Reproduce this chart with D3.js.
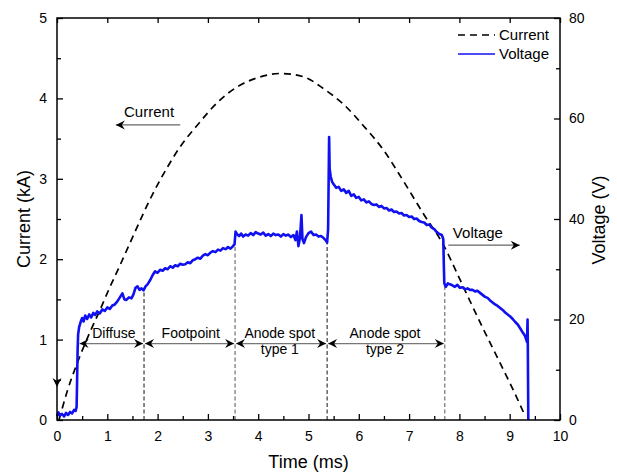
<!DOCTYPE html>
<html>
<head>
<meta charset="utf-8">
<script src="https://cdn.jsdelivr.net/npm/d3@7"></script>
<style>
  body { margin: 0; background: #fff; }
  text { font-family: "Liberation Sans", Arial, sans-serif; fill: #000; }
</style>
</head>
<body>
<svg id="chart" width="617" height="474"></svg>
<script>
// current trace (ms, kA)
const currentTime = [0.04, 0.2, 0.46, 0.66, 0.82, 1.05, 1.22, 1.45, 1.91, 2.2, 2.45, 2.78, 3.24, 3.6, 4.0, 4.45, 4.9, 5.3, 5.69, 6.12, 6.5, 6.8, 7.3, 7.68, 7.95, 8.21, 8.5, 8.8, 9.05, 9.3];
const currentKA = [0.0, 0.35, 0.8, 1.1, 1.32, 1.65, 1.88, 2.2, 2.82, 3.15, 3.4, 3.66, 3.98, 4.15, 4.26, 4.31, 4.27, 4.12, 3.93, 3.64, 3.35, 3.06, 2.55, 2.18, 1.83, 1.48, 1.1, 0.72, 0.4, 0.06];

// voltage trace (ms, V)
const voltageTime = [0, 0.03, 0.06, 0.1, 0.14, 0.18, 0.22, 0.26, 0.3, 0.34, 0.37, 0.39, 0.4, 0.41, 0.42, 0.44, 0.47, 0.5, 0.53, 0.56, 0.6, 0.64, 0.68, 0.72, 0.76, 0.8, 0.85, 0.9, 0.95, 1.0, 1.05, 1.1, 1.15, 1.2, 1.25, 1.3, 1.34, 1.38, 1.43, 1.48, 1.52, 1.56, 1.6, 1.64, 1.68, 1.72, 1.76, 1.8, 1.85, 1.9, 1.95, 2.0, 2.05, 2.1, 2.15, 2.2, 2.25, 2.3, 2.35, 2.4, 2.45, 2.5, 2.55, 2.6, 2.65, 2.7, 2.75, 2.8, 2.85, 2.9, 2.95, 3.0, 3.05, 3.1, 3.15, 3.2, 3.25, 3.3, 3.35, 3.4, 3.45, 3.5, 3.53, 3.55, 3.58, 3.62, 3.66, 3.7, 3.75, 3.8, 3.85, 3.9, 3.95, 4.0, 4.05, 4.1, 4.15, 4.2, 4.25, 4.3, 4.35, 4.4, 4.45, 4.5, 4.55, 4.6, 4.65, 4.7, 4.74, 4.77, 4.8, 4.83, 4.86, 4.88, 4.91, 4.95, 5.0, 5.05, 5.1, 5.15, 5.2, 5.25, 5.3, 5.34, 5.37, 5.39, 5.41, 5.42, 5.44, 5.47, 5.5, 5.55, 5.6, 5.65, 5.7, 5.75, 5.8, 5.85, 5.9, 5.95, 6.0, 6.05, 6.1, 6.15, 6.2, 6.25, 6.3, 6.35, 6.4, 6.45, 6.5, 6.55, 6.6, 6.65, 6.7, 6.75, 6.8, 6.85, 6.9, 6.95, 7.0, 7.05, 7.1, 7.15, 7.2, 7.25, 7.3, 7.35, 7.4, 7.45, 7.5, 7.55, 7.6, 7.65, 7.68, 7.69, 7.7, 7.73, 7.77, 7.81, 7.86, 7.91, 7.96, 8.01, 8.06, 8.11, 8.16, 8.21, 8.26, 8.31, 8.36, 8.41, 8.46, 8.51, 8.56, 8.61, 8.66, 8.71, 8.76, 8.81, 8.86, 8.91, 8.96, 9.01, 9.06, 9.11, 9.16, 9.21, 9.26, 9.3, 9.33, 9.345, 9.355, 9.36, 9.37];
const voltageV = [0.8, 1.5, 0.9, 1.2, 0.7, 1.4, 1.0, 1.6, 1.3, 2.0, 1.8, 2.6, 8, 14, 17, 18.5, 19.5, 20.3, 19.6, 20.8, 20.1, 21.0, 20.4, 21.3, 20.9, 21.6, 21.2, 22.0, 21.7, 22.4, 22.1, 22.8, 23.0, 23.6, 24.4, 25.2, 24.0, 23.9, 24.4, 24.2, 25.0, 26.3, 26.6, 25.9, 26.2, 25.8, 26.6, 27.0, 27.8, 28.8, 29.6, 29.3, 29.9, 29.7, 30.2, 30.0, 30.6, 30.3, 30.8, 30.6, 31.1, 30.9, 31.0, 31.4, 31.2, 31.8, 32.0, 32.3, 32.1, 32.7, 33.0, 32.8, 33.3, 33.6, 33.4, 33.9, 33.7, 34.2, 34.0, 34.4, 34.1, 34.6, 35.0, 37.5, 37.0, 36.6, 37.1, 36.5, 36.9, 36.7, 37.2, 36.8, 37.4, 37.1, 36.9, 37.3, 36.7, 37.0, 36.6, 37.1, 36.8, 36.9, 36.5, 37.0, 36.7, 36.9, 36.4, 36.8, 35.8, 37.5, 34.6, 36.2, 40.8, 36.0, 35.2, 36.4, 37.2, 37.5, 36.8, 36.9, 36.5, 36.6, 36.2, 35.8, 35.3, 38, 56.3, 50, 48.5, 47.4, 46.9, 46.2, 46.4, 45.6, 45.9, 45.2, 45.6, 44.6, 44.9, 44.2, 44.4, 43.7, 43.9, 43.3, 43.5, 43.0, 42.8, 42.9, 42.4, 42.6, 42.1, 42.2, 41.7, 41.9, 41.4, 41.5, 41.1, 41.2, 40.7, 40.8, 40.4, 40.5, 40.0, 40.1, 39.6, 39.4, 39.3, 38.8, 38.9, 38.3, 38.0, 37.4, 37.0, 36.8, 36.0, 31, 27.2, 26.5, 27.2, 27.0, 26.8, 26.5, 26.9, 26.3, 26.4, 26.0, 26.2, 25.9, 25.9, 25.6, 25.7, 25.3, 24.9, 24.5, 24.3, 23.8, 23.4, 23.0, 22.7, 22.3, 21.9, 21.4, 21.0, 20.6, 20.1, 19.5, 19.0, 18.2, 17.4, 16.8, 16.0, 15.5, 20.0, 15.0, 0];

// regime boundaries (ms) and the voltage (V) where each dashed marker stops
const phaseStarts = [0.43, 1.73, 3.54, 5.37];
const phaseEnds = [1.73, 3.54, 5.37, 7.71];
const boundaryTime = [1.73, 3.54, 5.37, 7.71];
const boundaryTopV = [26.0, 34.6, 35.4, 27.0];
const phaseLabels = [["Diffuse"], ["Footpoint"], ["Anode spot", "type 1"], ["Anode spot", "type 2"]];
const phaseLabelTime = [1.13, 2.66, 4.43, 6.52];

const timeTicks = d3.range(0, 11, 1);
const currentTicks = [0, 1, 2, 3, 4, 5];
const voltageTicks = [0, 20, 40, 60, 80];

const W = 617, H = 474;
const margin = { top: 18, right: 57, bottom: 54, left: 57 };
const iw = W - margin.left - margin.right;
const ih = H - margin.top - margin.bottom;

const svg = d3.select('#chart');
const defs = svg.append('defs');
defs.append('marker')
  .attr('id', 'head')
  .attr('viewBox', '-10 -5 12 10')
  .attr('refX', 0).attr('refY', 0)
  .attr('markerWidth', 12).attr('markerHeight', 10)
  .attr('markerUnits', 'userSpaceOnUse')
  .attr('orient', 'auto-start-reverse')
  .append('path')
  .attr('d', 'M0,0 L-9,-4.5 L-6,0 L-9,4.5 Z')
  .attr('fill', '#000');

const g = svg.append('g').attr('transform', `translate(${margin.left},${margin.top})`);

const x = d3.scaleLinear().domain([0, 10]).range([0, iw]);
const yI = d3.scaleLinear().domain([0, 5]).range([ih, 0]);
const yV = d3.scaleLinear().domain([0, 80]).range([ih, 0]);

// boundary markers
boundaryTime.forEach((t, i) => {
  g.append('line')
    .attr('x1', x(t)).attr('x2', x(t))
    .attr('y1', yI(0)).attr('y2', yV(boundaryTopV[i]))
    .attr('stroke', i % 2 ? '#555' : '#111')
    .attr('stroke-width', 1)
    .attr('stroke-dasharray', '4,2.5');
});

// double arrows for each regime
phaseStarts.forEach((t0, i) => {
  g.append('line')
    .attr('x1', x(t0) + 1).attr('x2', x(phaseEnds[i]) - 1)
    .attr('y1', yI(0.95)).attr('y2', yI(0.95))
    .attr('stroke', '#777').attr('stroke-width', 1.2)
    .attr('marker-start', 'url(#head)')
    .attr('marker-end', 'url(#head)');
  phaseLabels[i].forEach((s, j) => {
    g.append('text')
      .attr('x', x(phaseLabelTime[i]))
      .attr('y', yI(1.02) + j * 16)
      .attr('text-anchor', 'middle')
      .attr('font-size', 14)
      .text(s);
  });
});

// current (dashed)
const currentData = currentTime.map((t, i) => ({ t, v: currentKA[i] }));
g.append('path')
  .datum(currentData)
  .attr('fill', 'none')
  .attr('stroke', '#000')
  .attr('stroke-width', 1.7)
  .attr('stroke-dasharray', '7,5')
  .attr('d', d3.line().x(d => x(d.t)).y(d => yI(d.v)).curve(d3.curveMonotoneX));

// voltage (blue)
const voltageData = voltageTime.map((t, i) => ({ t, v: voltageV[i] }));
g.append('path')
  .datum(voltageData)
  .attr('fill', 'none')
  .attr('stroke', '#1010f0')
  .attr('stroke-width', 2.6)
  .attr('stroke-linejoin', 'round')
  .attr('d', d3.line().x(d => x(d.t)).y(d => yV(d.v)));

// axes with inward ticks
const fmt = d3.format('d');
const axBottom = g.append('g').attr('transform', `translate(0,${ih})`)
  .call(d3.axisBottom(x).tickValues(timeTicks).tickFormat(fmt).tickSizeInner(-6).tickSizeOuter(0).tickPadding(11));
const axBottomMinor = g.append('g').attr('transform', `translate(0,${ih})`)
  .call(d3.axisBottom(x).tickValues(timeTicks.slice(0, -1).map(d => d + 0.5)).tickSize(-4).tickFormat(''));
const axTop = g.append('g')
  .call(d3.axisTop(x).tickValues(timeTicks).tickSize(-5).tickFormat(''));
const axLeft = g.append('g')
  .call(d3.axisLeft(yI).tickValues(currentTicks).tickFormat(fmt).tickSizeInner(-6).tickSizeOuter(0).tickPadding(10));
const axLeftMinor = g.append('g')
  .call(d3.axisLeft(yI).tickValues(currentTicks.slice(0, -1).map(d => d + 0.5)).tickSize(-4).tickFormat(''));
const axRight = g.append('g').attr('transform', `translate(${iw},0)`)
  .call(d3.axisRight(yV).tickValues(voltageTicks).tickFormat(fmt).tickSizeInner(-6).tickSizeOuter(0).tickPadding(9));
const axRightMinor = g.append('g').attr('transform', `translate(${iw},0)`)
  .call(d3.axisRight(yV).tickValues(voltageTicks.slice(0, -1).map(d => d + 10)).tickSize(-4).tickFormat(''));

[axBottom, axBottomMinor, axTop, axLeft, axLeftMinor, axRight, axRightMinor].forEach(a => {
  a.selectAll('.domain').remove();
  a.selectAll('.tick line').attr('stroke', '#000').attr('stroke-width', 1.3);
  a.selectAll('text').attr('font-size', 14).attr('font-family', '"Liberation Sans", Arial, sans-serif');
});

g.append('rect')
  .attr('width', iw).attr('height', ih)
  .attr('fill', 'none').attr('stroke', '#000').attr('stroke-width', 1.5);

// axis titles
svg.append('text')
  .attr('x', margin.left + iw / 2).attr('y', 468)
  .attr('text-anchor', 'middle').attr('font-size', 18)
  .text('Time (ms)');
svg.append('text')
  .attr('transform', 'translate(30,219) rotate(-90)')
  .attr('text-anchor', 'middle').attr('font-size', 18)
  .text('Current (kA)');
svg.append('text')
  .attr('transform', 'translate(605,220) rotate(-90)')
  .attr('text-anchor', 'middle').attr('font-size', 18)
  .text('Voltage (V)');

// annotations
g.append('line')
  .attr('x1', x(2.45)).attr('x2', x(1.17))
  .attr('y1', yI(3.67)).attr('y2', yI(3.67))
  .attr('stroke', '#666').attr('stroke-width', 1.2)
  .attr('marker-end', 'url(#head)');
g.append('text')
  .attr('x', x(1.83)).attr('y', yI(3.77))
  .attr('text-anchor', 'middle').attr('font-size', 15)
  .text('Current');
g.append('line')
  .attr('x1', x(7.78)).attr('x2', x(9.2))
  .attr('y1', yV(34.8)).attr('y2', yV(34.8))
  .attr('stroke', '#666').attr('stroke-width', 1.2)
  .attr('marker-end', 'url(#head)');
g.append('text')
  .attr('x', x(7.87)).attr('y', yV(36.2))
  .attr('font-size', 15)
  .text('Voltage');
// small downward arrowhead on the left axis
g.append('path')
  .attr('transform', `translate(${x(0)},${yI(0.41)}) rotate(90)`)
  .attr('d', 'M0,0 L-9,-4.5 L-6,0 L-9,4.5 Z')
  .attr('fill', '#000');

// legend
const legend = svg.append('g').attr('transform', 'translate(458,0)');
legend.append('line')
  .attr('x1', 0).attr('x2', 37).attr('y1', 35).attr('y2', 35)
  .attr('stroke', '#000').attr('stroke-width', 1.7).attr('stroke-dasharray', '7,5');
legend.append('line')
  .attr('x1', 0).attr('x2', 37).attr('y1', 54).attr('y2', 54)
  .attr('stroke', '#1010f0').attr('stroke-width', 1.7);
legend.append('text').attr('x', 41).attr('y', 40).attr('font-size', 15).text('Current');
legend.append('text').attr('x', 41).attr('y', 59).attr('font-size', 15).text('Voltage');
</script>
</body>
</html>
